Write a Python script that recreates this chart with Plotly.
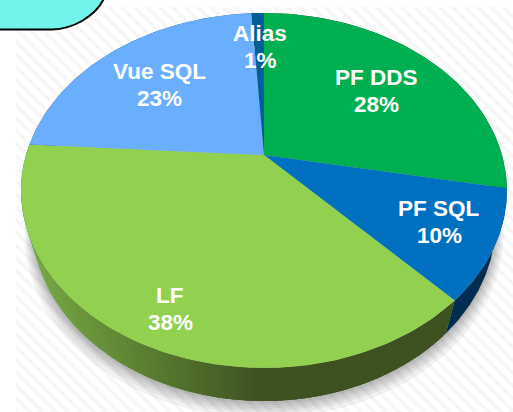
import numpy as np
import plotly.graph_objects as go

categories = ["PF DDS", "PF SQL", "LF", "Vue SQL", "Alias"]
values = [28, 10, 38, 23, 1]
slice_colors = ["#00b050", "#0070c0", "#92d050", "#6aafff", "#005f96"]
side_colors = ["#00582a", "#002d50", "#3e5322", "#35587f", "#002f4b"]

W, H = 513, 412
CX, CY = 264, 155
A, B, K = 238.0, 170.4, 0.2
DEPTH = 33
RIM_SCALE = 0.953
FONT = "Liberation Sans, Arial, sans-serif"


def project(theta, r=1.0, dy=0.0, sx=1.0):
    u, v = r * np.sin(theta), r * np.cos(theta)
    w = 1 + K * v
    return CX + sx * A * u / w, CY - B * v / w + dy


def rim(theta):
    return project(theta, dy=DEPTH, sx=RIM_SCALE)


def mix(c1, c2, t):
    a = [int(c1[i:i + 2], 16) for i in (1, 3, 5)]
    b = [int(c2[i:i + 2], 16) for i in (1, 3, 5)]
    return "rgb(%d,%d,%d)" % tuple(round(p + (q - p) * t) for p, q in zip(a, b))


fig = go.Figure()

# hatched backdrop
fig.add_trace(go.Bar(
    x=[(16 + W) / 2], y=[H - 7], base=[7], width=[W - 16],
    marker=dict(color="white", line_width=0,
                pattern=dict(shape="\\", fgcolor="#eeeeee", bgcolor="white", size=9, solidity=0.4)),
    hoverinfo="skip", showlegend=False))

# soft shadow
full = np.linspace(0, 2 * np.pi, 240)
for grow, drop in zip([8, 6, 4.5, 3, 1.5, 0.5], [DEPTH + 8, DEPTH + 6, DEPTH + 5, DEPTH + 4, DEPTH + 3, DEPTH + 2]):
    x, y = project(full, 1 + grow / 240, drop, RIM_SCALE)
    fig.add_trace(go.Scatter(x=x, y=y, mode="lines", fill="toself", line_width=0,
                             fillcolor="rgba(0,0,0,0.05)", hoverinfo="skip", showlegend=False))

edges = np.deg2rad(np.cumsum([0] + values) * 3.6)

# extruded side
for i in range(len(values)):
    a0, a1 = edges[i], edges[i + 1]
    if categories[i] == "LF":
        steps = np.linspace(a0, a1, 140)
        for s0, s1 in zip(steps[:-1], steps[1:]):
            xm, _ = project((s0 + s1) / 2)
            t = np.clip((xm - 35) / (262 - 35), 0, 1)
            col = mix("#76a742", "#3d5121", t)
            t0 = np.linspace(s0, min(s1 + 0.03, a1), 5)
            xa, ya = project(t0)
            xb, yb = rim(t0[::-1])
            fig.add_trace(go.Scatter(x=np.r_[xa, xb], y=np.r_[ya, yb], mode="lines", fill="toself",
                                     line_width=0, fillcolor=col, hoverinfo="skip", showlegend=False))
    else:
        t0 = np.linspace(a0, a1, 60)
        xa, ya = project(t0)
        xb, yb = rim(t0[::-1])
        fig.add_trace(go.Scatter(x=np.r_[xa, xb], y=np.r_[ya, yb], mode="lines", fill="toself",
                                 line_width=0, fillcolor=side_colors[i], hoverinfo="skip", showlegend=False))

# top face
for i in range(len(values)):
    t0 = np.linspace(edges[i], edges[i + 1], 120)
    xa, ya = project(t0)
    fig.add_trace(go.Scatter(x=np.r_[CX, xa, CX], y=np.r_[CY, ya, CY], mode="lines", fill="toself",
                             line_width=0, fillcolor=slice_colors[i], hoverinfo="skip", showlegend=False))

label_xy = [(376, 91), (439, 222), (170, 309), (159, 85), (260, 47)]
annotations = []
for (x, y), c, v in zip(label_xy, categories, values):
    for off, txt in ((-13.5, c), (13.5, f"{v}%")):
        annotations.append(dict(x=x, y=y + off, xref="x", yref="y", showarrow=False,
                                text=f"<b>{txt}</b>",
                                font=dict(family=FONT, size=22.5, color="white")))

fig.update_layout(
    width=W, height=H, margin=dict(l=0, r=0, t=0, b=0),
    paper_bgcolor="white", plot_bgcolor="white", showlegend=False, bargap=0,
    xaxis=dict(range=[0, W], visible=False, fixedrange=True),
    yaxis=dict(range=[H, 0], visible=False, fixedrange=True),
    annotations=annotations,
    shapes=[dict(type="path", xref="x", yref="y", layer="above",
                 path="M -4 -4 L 105 -4 Q 100 10 82 21 Q 68 29 52 29.5 L -4 29.5 Z",
                 fillcolor="#72f3ec", line=dict(color="black", width=2))],
)
fig.write_html("out.html", config=dict(displayModeBar=False),
               post_script="document.body.style.margin='0';document.documentElement.style.overflow='hidden';")
